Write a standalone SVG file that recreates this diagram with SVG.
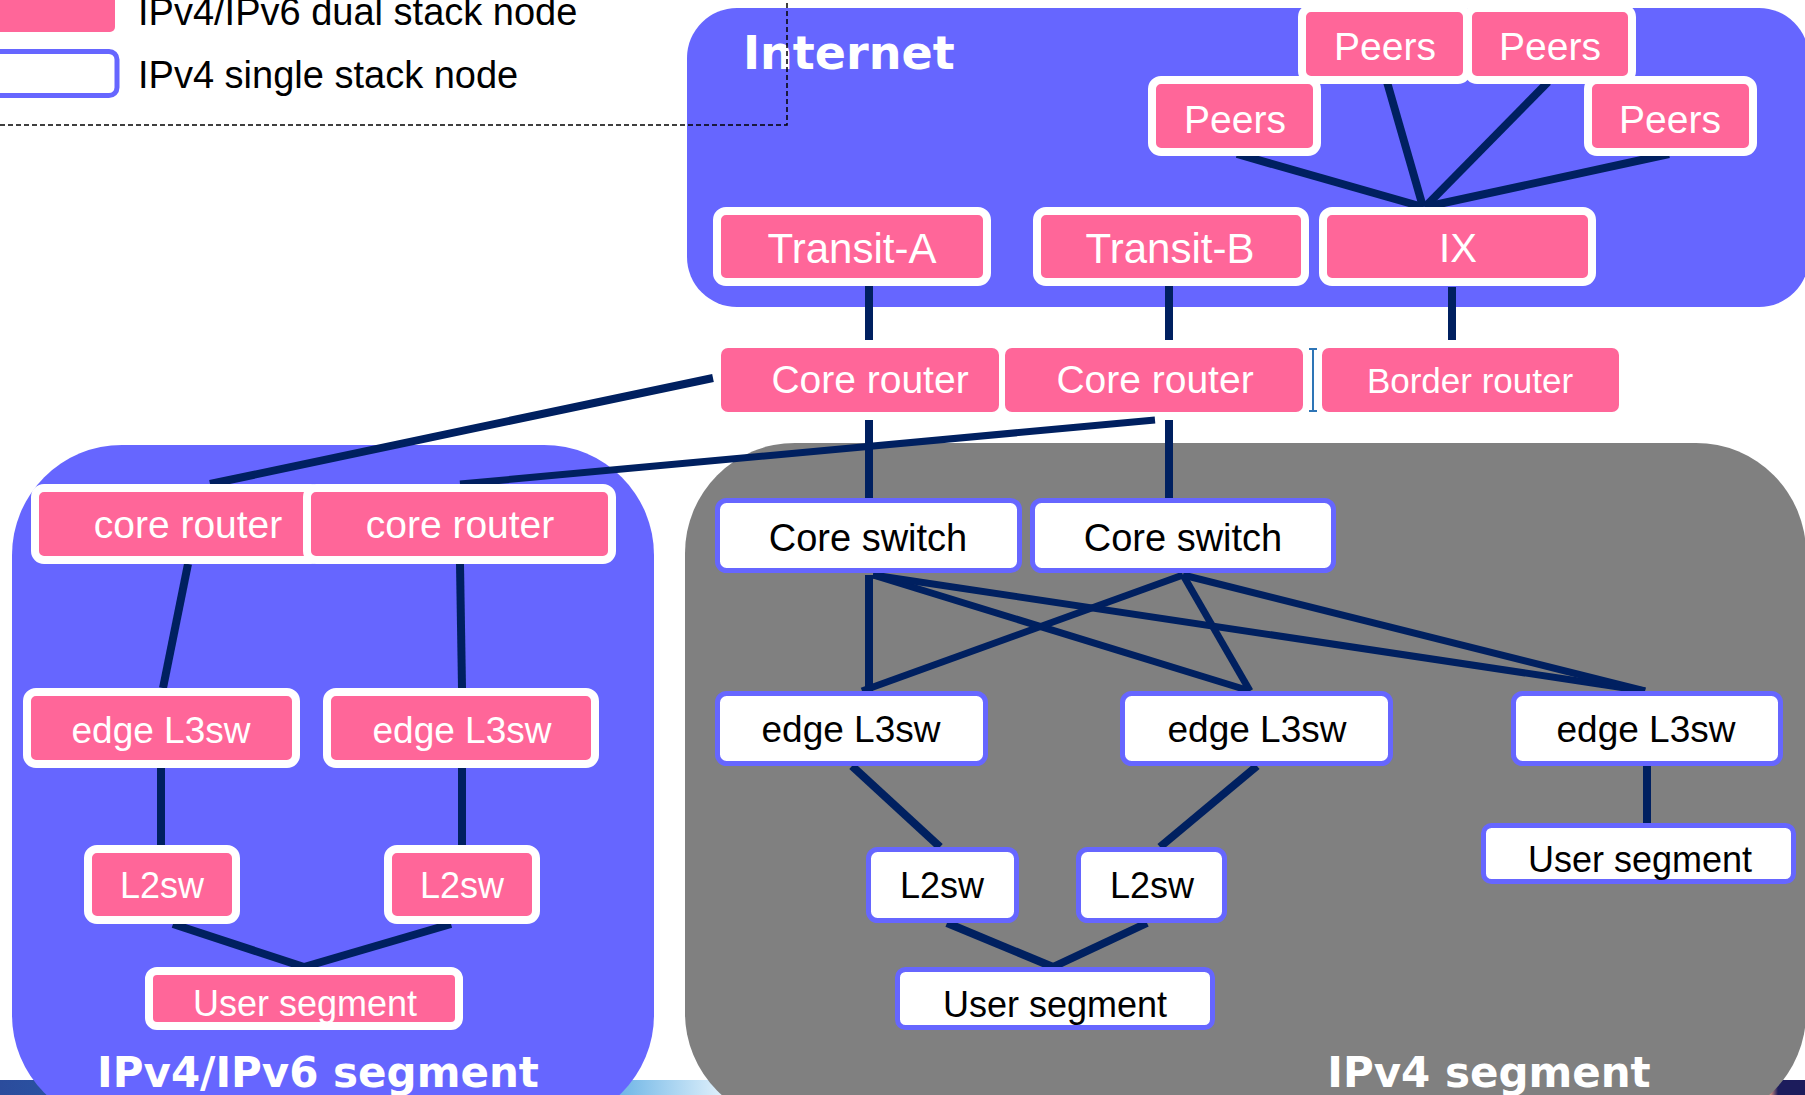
<svg xmlns="http://www.w3.org/2000/svg" width="1805" height="1095" viewBox="0 0 1805 1095">
<defs>
<linearGradient id="strip" x1="0" y1="0" x2="1" y2="0">
<stop offset="0" stop-color="#2b4c9c"/>
<stop offset="0.3" stop-color="#1b8ad6"/>
<stop offset="0.4" stop-color="#dff0fb"/>
<stop offset="0.47" stop-color="#3a9ad8"/>
<stop offset="0.56" stop-color="#ee7445"/>
<stop offset="0.98" stop-color="#f5a888"/>
<stop offset="0.985" stop-color="#1c1c5c"/>
<stop offset="1" stop-color="#1c1c5c"/>
</linearGradient>
</defs>
<style>
.lbl{font-family:"Liberation Sans",Arial,sans-serif;text-anchor:middle}
.w{fill:#ffffff}
.k{fill:#000000}
.pk{fill:#ff6699;stroke:#ffffff;stroke-width:8}
.pk0{fill:#ff6699;stroke:none}
.wb{fill:#ffffff;stroke:#6666ff;stroke-width:5}
.title{font-family:"DejaVu Sans",Verdana,sans-serif;font-weight:bold;fill:#ffffff}
.ln{stroke:#002060;stroke-width:8;fill:none}
.ln7{stroke:#002060;stroke-width:7;fill:none}
</style>

<!-- footer strip -->
<rect x="0" y="1080" width="1805" height="15" fill="url(#strip)"/>

<!-- region backgrounds -->
<g id="internet-region">
<rect x="687" y="8" width="1122" height="299" rx="50" ry="50" fill="#6666ff"/>
<text x="743" y="69" class="title" font-size="46">Internet</text>
</g>
<g id="ipv4v6-region">
<rect x="12" y="445" width="642" height="680" rx="110" ry="110" fill="#6666ff"/>
</g>
<g id="ipv4-region">
<rect x="685" y="443" width="1121" height="680" rx="110" ry="110" fill="#808080"/>
</g>

<!-- legend -->
<g id="legend">
<rect x="-10" y="-10" width="125" height="42" rx="5" fill="#ff6699"/>
<text x="138" y="25" class="lbl k" style="text-anchor:start" font-size="38">IPv4/IPv6 dual stack node</text>
<rect x="-10" y="51.5" width="127" height="44" rx="8" class="wb"/>
<text x="138" y="88" class="lbl k" style="text-anchor:start" font-size="38">IPv4 single stack node</text>
</g>
<path d="M0,125 H787 V0" fill="none" stroke="#000000" stroke-width="1.5" stroke-dasharray="5,3"/>

<!-- connectors -->
<g id="connectors">
<line x1="1237" y1="154" x2="1423" y2="207" class="ln"/>
<line x1="1387" y1="82" x2="1423" y2="207" class="ln"/>
<line x1="1548" y1="82" x2="1425" y2="207" class="ln"/>
<line x1="1669" y1="154" x2="1425" y2="207" class="ln"/>
<line x1="869" y1="286" x2="869" y2="340" class="ln"/>
<line x1="1169" y1="282" x2="1169" y2="340" class="ln"/>
<line x1="1452" y1="287" x2="1452" y2="340" class="ln"/>
<line x1="869" y1="420" x2="869" y2="498" class="ln"/>
<line x1="1169" y1="420" x2="1169" y2="498" class="ln"/>
<line x1="713" y1="378" x2="210" y2="484" class="ln"/>
<line x1="1155" y1="420" x2="460" y2="484" class="ln7"/>
<line x1="188" y1="564" x2="163" y2="688" class="ln"/>
<line x1="460" y1="564" x2="462" y2="688" class="ln"/>
<line x1="161" y1="768" x2="161" y2="845" class="ln"/>
<line x1="462" y1="768" x2="462" y2="845" class="ln"/>
<line x1="173" y1="924" x2="304" y2="967" class="ln"/>
<line x1="451" y1="924" x2="304" y2="967" class="ln"/>
<line x1="869" y1="575" x2="869" y2="691" class="ln"/>
<line x1="873" y1="575" x2="1250" y2="691" class="ln7"/>
<line x1="873" y1="575" x2="1645" y2="691" class="ln7"/>
<line x1="1183" y1="575" x2="862" y2="691" class="ln7"/>
<line x1="1183" y1="575" x2="1250" y2="691" class="ln7"/>
<line x1="1183" y1="575" x2="1645" y2="691" class="ln7"/>
<line x1="852" y1="766" x2="940" y2="847" class="ln"/>
<line x1="1257" y1="766" x2="1160" y2="847" class="ln"/>
<line x1="947" y1="923" x2="1053" y2="967" class="ln"/>
<line x1="1147" y1="923" x2="1053" y2="967" class="ln"/>
<line x1="1647" y1="766" x2="1647" y2="823" class="ln"/>
</g>

<!-- Internet nodes -->
<g id="peers-1"><rect x="1302" y="8" width="165" height="72" rx="9" class="pk"/><text x="1385" y="60" class="lbl w" font-size="39">Peers</text></g>
<g id="peers-2"><rect x="1468" y="8" width="164" height="72" rx="9" class="pk"/><text x="1550" y="60" class="lbl w" font-size="39">Peers</text></g>
<g id="peers-3"><rect x="1152" y="80" width="165" height="72" rx="9" class="pk"/><text x="1235" y="133" class="lbl w" font-size="39">Peers</text></g>
<g id="peers-4"><rect x="1588" y="80" width="165" height="72" rx="9" class="pk"/><text x="1670" y="133" class="lbl w" font-size="39">Peers</text></g>
<g id="transit-a"><rect x="717" y="211" width="270" height="71" rx="9" class="pk"/><text x="852" y="263" class="lbl w" font-size="42">Transit-A</text></g>
<g id="transit-b"><rect x="1037" y="211" width="268" height="71" rx="9" class="pk"/><text x="1170" y="263" class="lbl w" font-size="42">Transit-B</text></g>
<g id="ix"><rect x="1323" y="211" width="269" height="71" rx="9" class="pk"/><text x="1458" y="262" class="lbl w" font-size="40">IX</text></g>

<!-- upper routers -->
<g id="core-router-1"><rect x="721" y="348" width="278" height="64" rx="7" class="pk0"/><text x="870" y="393" class="lbl w" font-size="39">Core router</text></g>
<g id="core-router-2"><rect x="1005" y="348" width="298" height="64" rx="7" class="pk0"/><text x="1155" y="393" class="lbl w" font-size="39">Core router</text></g>
<g id="cursor-mark" stroke="#2e75b6" stroke-width="2" fill="none"><path d="M1313,349 V411 M1309,349 H1317 M1309,411 H1317"/></g>
<g id="border-router"><rect x="1322" y="348" width="297" height="64" rx="7" class="pk0"/><text x="1470" y="393" class="lbl w" font-size="35">Border router</text></g>

<!-- IPv4/IPv6 segment nodes -->
<g id="l-core-router-1"><rect x="35" y="488" width="285" height="72" rx="9" class="pk"/><text x="188" y="538" class="lbl w" font-size="39">core router</text></g>
<g id="l-core-router-2"><rect x="307" y="488" width="305" height="72" rx="9" class="pk"/><text x="460" y="538" class="lbl w" font-size="39">core router</text></g>
<g id="l-edge-1"><rect x="27" y="692" width="269" height="72" rx="9" class="pk"/><text x="161" y="743" class="lbl w" font-size="37">edge L3sw</text></g>
<g id="l-edge-2"><rect x="327" y="692" width="268" height="72" rx="9" class="pk"/><text x="462" y="743" class="lbl w" font-size="37">edge L3sw</text></g>
<g id="l-l2sw-1"><rect x="88" y="849" width="148" height="71" rx="9" class="pk"/><text x="162" y="898" class="lbl w" font-size="36">L2sw</text></g>
<g id="l-l2sw-2"><rect x="388" y="849" width="148" height="71" rx="9" class="pk"/><text x="462" y="898" class="lbl w" font-size="36">L2sw</text></g>
<g id="l-user"><rect x="149" y="971" width="310" height="55" rx="8" class="pk"/><text x="305" y="1016" class="lbl w" font-size="36">User segment</text></g>

<!-- IPv4 segment nodes -->
<g id="core-switch-1"><rect x="717.5" y="500.5" width="302" height="70" rx="9" class="wb"/><text x="868" y="551" class="lbl k" font-size="38">Core switch</text></g>
<g id="core-switch-2"><rect x="1032.5" y="500.5" width="301" height="70" rx="9" class="wb"/><text x="1183" y="551" class="lbl k" font-size="38">Core switch</text></g>
<g id="r-edge-1"><rect x="717.5" y="693.5" width="268" height="70" rx="9" class="wb"/><text x="851" y="742" class="lbl k" font-size="37">edge L3sw</text></g>
<g id="r-edge-2"><rect x="1122.5" y="693.5" width="268" height="70" rx="9" class="wb"/><text x="1257" y="742" class="lbl k" font-size="37">edge L3sw</text></g>
<g id="r-edge-3"><rect x="1513.5" y="693.5" width="267" height="70" rx="9" class="wb"/><text x="1646" y="742" class="lbl k" font-size="37">edge L3sw</text></g>
<g id="r-l2sw-1"><rect x="868.5" y="849.5" width="148" height="71" rx="9" class="wb"/><text x="942" y="898" class="lbl k" font-size="36">L2sw</text></g>
<g id="r-l2sw-2"><rect x="1078.5" y="849.5" width="146" height="71" rx="9" class="wb"/><text x="1152" y="898" class="lbl k" font-size="36">L2sw</text></g>
<g id="r-user-1"><rect x="897.5" y="969.5" width="315" height="58" rx="8" class="wb"/><text x="1055" y="1017" class="lbl k" font-size="36">User segment</text></g>
<g id="r-user-2"><rect x="1483.5" y="825.5" width="310" height="56" rx="8" class="wb"/><text x="1640" y="872" class="lbl k" font-size="36">User segment</text></g>

<!-- segment titles -->
<text x="318" y="1087" class="title" font-size="42" text-anchor="middle">IPv4/IPv6 segment</text>
<text x="1489" y="1087" class="title" font-size="42" text-anchor="middle">IPv4 segment</text>
</svg>
